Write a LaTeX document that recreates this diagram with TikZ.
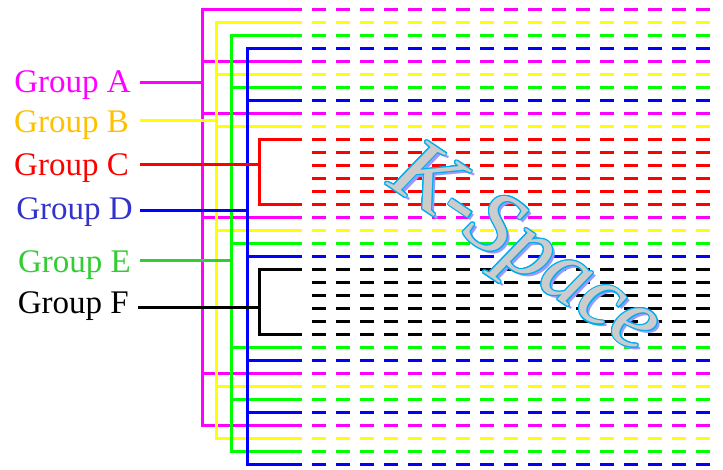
\documentclass[tikz,border=0pt]{standalone}
\usepackage{fontspec}
\setmainfont{Liberation Serif}
\usepackage{xcolor}
\usepackage{contour}
\usepackage{tikz}
\usetikzlibrary{positioning}

\definecolor{grpmag}{HTML}{FF00FF}
\definecolor{grpyel}{HTML}{FFFF00}
\definecolor{grpgrn}{HTML}{00FF00}
\definecolor{grpblu}{HTML}{0000FF}
\definecolor{grpred}{HTML}{FF0000}
\definecolor{txtyel}{HTML}{FFC000}
\definecolor{txtblu}{HTML}{3333CC}
\definecolor{txtgrn}{HTML}{33CC33}
\definecolor{kshade}{HTML}{9999FF}
\definecolor{kfill}{HTML}{CCCCCC}
\contourlength{1.1pt}

\begin{document}
\begin{tikzpicture}[x=1pt,y=-1pt,
        wire/.style={line width=3pt},
        readout/.style={line width=3pt, dash pattern=on 14pt off 10pt},
        grplabel/.style={anchor=base east, inner sep=0pt, font=\fontsize{33}{33}\selectfont},
        kspace/.style={anchor=base west, inner sep=0pt, rotate=-34, font=\fontsize{90}{90}\selectfont\itshape}]
        \useasboundingbox (0,0) rectangle (723,469);

        % readout lines
        \foreach \c [count=\r from 0] in {grpmag,grpyel,grpgrn,grpblu,grpmag,grpyel,grpgrn,grpblu,grpmag,grpyel,
                grpred,grpred,grpred,grpred,grpred,grpred,grpmag,grpyel,grpgrn,grpblu,
                black,black,black,black,black,black,grpgrn,grpblu,grpmag,grpyel,grpgrn,grpblu,grpmag,grpyel,grpgrn,grpblu}
                \draw[readout,\c] (312,9+13*\r) -- (710,9+13*\r);

        % interleaved groups
        \draw[wire,grpmag] (302,9) -| (202,425) -- (302,425);
        \foreach \y in {61,113,217,373} \draw[wire,grpmag] (202,\y) -- (302,\y);
        \draw[wire,grpyel] (302,22) -| (216,438) -- (302,438);
        \foreach \y in {74,126,230,386} \draw[wire,grpyel] (216,\y) -- (302,\y);
        \draw[wire,grpgrn] (302,35) -| (231,451) -- (302,451);
        \foreach \y in {87,243,347,399} \draw[wire,grpgrn] (231,\y) -- (302,\y);
        \draw[wire,grpblu] (302,48) -| (247,464) -- (302,464);
        \foreach \y in {100,256,360,412} \draw[wire,grpblu] (247,\y) -- (302,\y);

        % segmented groups
        \draw[wire,grpred] (302,139) -| (259,204) -- (302,204);
        \draw[wire,black] (302,269) -| (259,334) -- (302,334);

        \coordinate (jA) at (202,82);
        \coordinate (jB) at (216,120);
        \coordinate (jC) at (259,164);
        \coordinate (jD) at (247,210);
        \coordinate (jE) at (231,260);
        \coordinate (jF) at (259,307);

        \node[grplabel, text=grpmag] (grpA) at (131,92) {Group A};
        \node[grplabel, text=txtyel] (grpB) at (129,132) {Group B};
        \node[grplabel, text=grpred] (grpC) at (129,175) {Group C};
        \node[grplabel, text=txtblu] (grpD) at (133,219) {Group D};
        \node[grplabel, text=txtgrn] (grpE) at (131,272) {Group E};
        \node[grplabel, text=black] (grpF) at (129,313) {Group F};

        \draw[wire,grpmag] ([xshift=9pt]grpA.east |- jA) -- (jA);
        \draw[wire,grpyel] ([xshift=11pt]grpB.east |- jB) -- (jB);
        \draw[wire,grpred] ([xshift=11pt]grpC.east |- jC) -- (jC);
        \draw[wire,grpblu] ([xshift=7pt]grpD.east |- jD) -- (jD);
        \draw[wire,txtgrn] ([xshift=9pt]grpE.east |- jE) -- (jE);
        \draw[wire,black] ([xshift=9pt]grpF.east |- jF) -- (jF);

        % k-space title
        \node[kspace, text=kshade] (kshadow) at (389,187) {K-Space};
        \node[kspace, text=kfill] (ktitle) at (386,184) {\contour{cyan}{K-Space}};
\end{tikzpicture}
\end{document}
